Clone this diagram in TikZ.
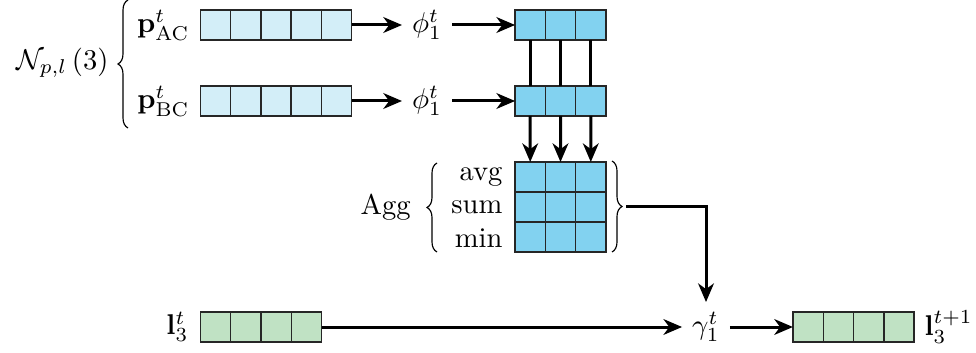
\documentclass[tikz,border=0pt]{standalone}
\usetikzlibrary{arrows.meta,decorations.pathreplacing,calc}
\definecolor{lightblue}{HTML}{D3EEF8}
\definecolor{midblue}{HTML}{82D2F0}
\definecolor{lightgreen}{HTML}{C0E2C4}
\begin{document}
\begin{tikzpicture}[x=0.35pt,y=-0.35pt,
  cellbox/.style={draw=black!85, line width=0.5pt, minimum height=10.5pt, inner sep=0pt, outer sep=0pt},
  cells/.style={minimum width=#1*10.6pt, path picture={
      \pgfmathtruncatemacro\nm{#1-1}
      \foreach \k in {1,...,\nm}
        \draw[black!85,line width=0.5pt] ([xshift=\k*10.6pt]path picture bounding box.south west) -- ([xshift=\k*10.6pt]path picture bounding box.north west);}},
  gridc/.style={minimum width=31.8pt, minimum height=31.5pt, path picture={
      \foreach \k in {1,2}{
        \draw[black!85,line width=0.5pt] ([xshift=\k*10.6pt]path picture bounding box.south west) -- ([xshift=\k*10.6pt]path picture bounding box.north west);
        \draw[black!85,line width=0.5pt] ([yshift=\k*10.5pt]path picture bounding box.south west) -- ([yshift=\k*10.5pt]path picture bounding box.south east);}}},
  arr/.style={line width=1.05pt, -{Stealth[length=6.5pt,width=5.5pt,inset=2pt]}},
  conn/.style={line width=1.05pt},
  brc/.style={decorate, decoration={brace, amplitude=3.5pt}, line width=0.4pt},
  lbl/.style={inner sep=0pt}]
\useasboundingbox (0,0) rectangle (976,353);

% left group
\node[lbl, anchor=east] (Nlab) at (109,63) {$\mathcal{N}_{p,l}\,(3)$};
\draw[brc] (128,128) -- (128,0);

\node[lbl, anchor=east] (pAClab) at (190,25) {$\mathbf{p}^t_{\mathrm{AC}}$};
\node[lbl, anchor=east] (pBClab) at (190,101) {$\mathbf{p}^t_{\mathrm{BC}}$};
\node[cellbox, cells=5, fill=lightblue] (pAC) at (276,25) {};
\node[cellbox, cells=5, fill=lightblue] (pBC) at (276,101) {};

\node (phiA) at (427,25) {$\phi^t_1$};
\node (phiB) at (427,101) {$\phi^t_1$};

\node[cellbox, cells=3, fill=midblue] (bA) at (560.5,25) {};
\node[cellbox, cells=3, fill=midblue] (bB) at (560.5,101) {};

\draw[arr] (pAC.east) -- (phiA.west);
\draw[arr] (pBC.east) -- (phiB.west);
\draw[arr] (phiA.east) -- (bA.west);
\draw[arr] (phiB.east) -- (bB.west);

% aggregation grid
\node[cellbox, gridc, fill=midblue] (agg) at (560.5,207) {};

\foreach \k in {1,2,3}{
  \pgfmathsetmacro\f{(\k-0.5)/3}
  \draw[conn] ($(bA.south west)!\f!(bA.south east)$) -- ($(bB.north west)!\f!(bB.north east)$);
  \draw[arr] ($(bB.south west)!\f!(bB.south east)$) -- ($(agg.north west)!\f!(agg.north east)$);
}

\node[lbl, anchor=base east] (avg) at (503,181) {avg};
\node[lbl, anchor=base east] (sum) at (503,214) {sum};
\node[lbl, anchor=base east] (min) at (503,248) {min};
\node[lbl, anchor=base west] (agglab) at (360,215) {Agg};
\draw[brc] (437,252) -- (437,163);
\draw[brc] (612,161) -- (612,252);
\coordinate (brtip) at (626,207);

% bottom row
\node[lbl, anchor=east] (l3lab) at (189,327) {$\mathbf{l}^t_3$};
\node[cellbox, cells=4, fill=lightgreen] (l3) at (261,327) {};
\node (gam) at (706,327) {$\gamma^t_1$};
\node[cellbox, cells=4, fill=lightgreen] (l3n) at (853.5,327) {};
\node[lbl, anchor=west] (l3nlab) at (924,327) {$\mathbf{l}^{t+1}_3$};

\draw[arr] (l3.east) -- (gam.west);
\draw[arr] (gam.east) -- (l3n.west);
\draw[arr] (brtip) -| (gam.north);
\end{tikzpicture}
\end{document}
